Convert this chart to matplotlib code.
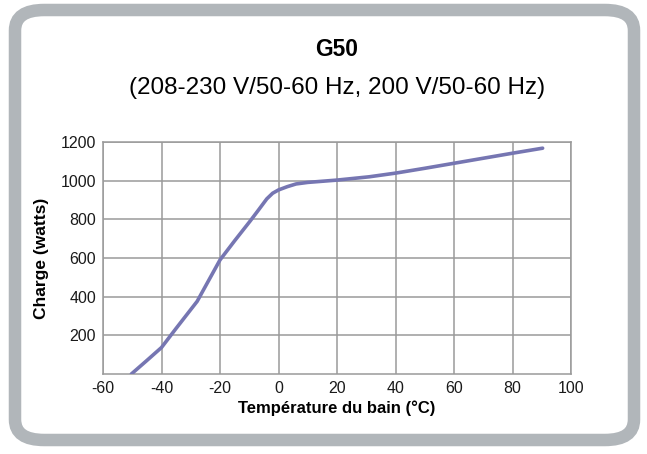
import matplotlib
matplotlib.use("Agg")
import matplotlib.pyplot as plt
from matplotlib.patches import FancyBboxPatch

# Load curve (bath temperature °C -> load in watts)
temp_c = [-50.3, -45, -40, -35, -27.8, -25, -20, -15, -9.7, -7, -4, -2, 0, 3, 6, 10, 20, 31, 40, 50, 60, 70, 80, 90.3]
load_w = [0, 70, 137, 236, 376, 453, 590, 689, 791, 845, 906, 935, 952, 969, 983, 991, 1003, 1020, 1039, 1064, 1090, 1116, 1142, 1168]

x_ticks = [-60, -40, -20, 0, 20, 40, 60, 80, 100]
y_ticks = [200, 400, 600, 800, 1000, 1200]

TITLE = "G50"
SUBTITLE = "(208-230 V/50-60 Hz, 200 V/50-60 Hz)"
XLABEL = "Température du bain (°C)"
YLABEL = "Charge (watts)"

LINE_COLOUR = "#7676b2"
GRID_COLOUR = "#9a9a9a"
FRAME_COLOUR = "#b1b6ba"
NARROW = ["Liberation Sans Narrow", "Liberation Sans", "DejaVu Sans"]

plt.rcParams["font.family"] = ["Liberation Sans", "DejaVu Sans"]
plt.rcParams["axes.unicode_minus"] = False

fig = plt.figure(figsize=(6.47, 4.54), dpi=100)
fig.patch.set_facecolor("white")

frame = FancyBboxPatch((15 / 647, 14 / 454), 619 / 647, 430 / 454,
                       boxstyle="round,pad=0,rounding_size=0.045",
                       transform=fig.transFigure, facecolor="white",
                       edgecolor=FRAME_COLOUR, linewidth=9, zorder=-5)
fig.patches.append(frame)

ax = fig.add_axes([103 / 647, 1 - 374 / 454, 468 / 647, 232 / 454])
ax.set_zorder(2)
ax.set_facecolor("none")
ax.plot(temp_c, load_w, color=LINE_COLOUR, linewidth=2.6, solid_capstyle="round",
        solid_joinstyle="round", zorder=3)

ax.set_xlim(-60, 100)
ax.set_ylim(0, 1200)
ax.set_xticks(x_ticks)
ax.set_yticks(y_ticks)
ax.tick_params(length=0, labelsize=11.5, pad=5, colors="#1a1a1a")
ax.grid(True, color=GRID_COLOUR, linewidth=1.1, zorder=1)
for s in ax.spines.values():
    s.set_color(GRID_COLOUR)
    s.set_linewidth(1.1)

ax.set_xlabel(XLABEL, family=NARROW, fontweight="bold", fontsize=12, labelpad=3)
ax.set_ylabel(YLABEL, family=NARROW, fontweight="bold", fontsize=12.5, labelpad=8)

fig.text(337 / 647, 1 - 50 / 454, TITLE, family=NARROW, fontweight="bold",
         fontsize=16.5, ha="center", va="center")
fig.text(337 / 647, 1 - 88 / 454, SUBTITLE, family=NARROW,
         fontsize=17.5, ha="center", va="center")

fig.savefig("out.png", dpi=100)
